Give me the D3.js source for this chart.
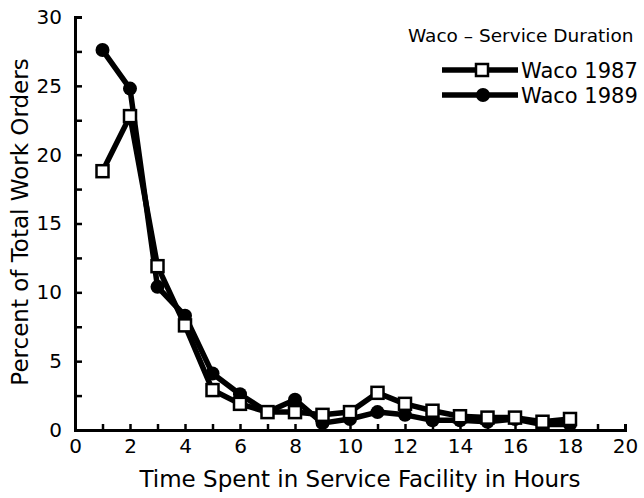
<!DOCTYPE html>
<html>
<head>
<meta charset="utf-8">
<script src="https://cdn.jsdelivr.net/npm/d3@7"></script>
<style>
  body { margin: 0; background: #fff; }
  text { font-family: "DejaVu Sans", sans-serif; fill: #000; }
</style>
</head>
<body>
<svg id="chart" width="644" height="498"></svg>
<script>
// hours in facility
var hours = [1, 2, 3, 4, 5, 6, 7, 8, 9, 10, 11, 12, 13, 14, 15, 16, 17, 18];
// percent of work orders
var waco1987 = [18.8, 22.8, 11.9, 7.6, 2.9, 1.9, 1.3, 1.3, 1.1, 1.3, 2.7, 1.9, 1.4, 1.0, 0.9, 0.9, 0.6, 0.8];
var waco1989 = [27.6, 24.8, 10.4, 8.3, 4.1, 2.6, 1.3, 2.2, 0.5, 0.8, 1.3, 1.1, 0.7, 0.7, 0.6, 0.8, 0.4, 0.4];
var seriesNames = ["Waco 1987", "Waco 1989"];

var svg = d3.select("#chart");
var margin = {top: 17, right: 19, bottom: 68, left: 75};
var width = 644 - margin.left - margin.right,
    height = 498 - margin.top - margin.bottom;

var x = d3.scaleLinear().domain([0, 20]).range([0, width]);
var y = d3.scaleLinear().domain([0, 30]).range([height, 0]);

var g = svg.append("g")
    .attr("transform", "translate(" + margin.left + "," + margin.top + ")");

// axes: ticks point inward, minor ticks between labels
var xAxis = g.append("g")
    .attr("transform", "translate(0," + height + ")")
    .call(d3.axisBottom(x).tickValues(d3.range(0, 21)).tickSize(-6).tickPadding(9)
      .tickFormat(function(d) { return d % 2 == 0 ? d : ""; }));

var yAxis = g.append("g")
    .call(d3.axisLeft(y).tickValues(d3.range(0, 30.1, 2.5)).tickSize(-7).tickPadding(13)
      .tickFormat(function(d) { return d % 5 == 0 ? d : ""; }));

[xAxis, yAxis].forEach(function(a) {
  a.select(".domain").attr("stroke", "#000").attr("stroke-width", 3);
  a.selectAll(".tick line").attr("stroke", "#000").attr("stroke-width", 2.5);
  a.selectAll(".tick text").style("font-size", "20px").style("font-family", "DejaVu Sans");
});

// axis titles
svg.append("text")
    .attr("x", 360).attr("y", 487)
    .attr("text-anchor", "middle")
    .style("font-size", "23px")
    .text("Time Spent in Service Facility in Hours");

svg.append("text")
    .attr("transform", "translate(28," + 222 + ") rotate(-90)")
    .attr("text-anchor", "middle")
    .style("font-size", "23px")
    .text("Percent of Total Work Orders");

var line = d3.line()
    .x(function(d) { return x(d[0]); })
    .y(function(d) { return y(d[1]); });

var d87 = hours.map(function(h, i) { return [h, waco1987[i]]; });
var d89 = hours.map(function(h, i) { return [h, waco1989[i]]; });

g.append("path").datum(d89)
    .attr("d", line).attr("fill", "none")
    .attr("stroke", "#000").attr("stroke-width", 5.5).attr("stroke-linejoin", "round");
g.append("path").datum(d87)
    .attr("d", line).attr("fill", "none")
    .attr("stroke", "#000").attr("stroke-width", 5.5).attr("stroke-linejoin", "round");

g.selectAll(".dot89").data(d89).enter().append("circle")
    .attr("cx", function(d) { return x(d[0]); })
    .attr("cy", function(d) { return y(d[1]); })
    .attr("r", 7).attr("fill", "#000");

g.selectAll(".sq87").data(d87).enter().append("rect")
    .attr("x", function(d) { return x(d[0]) - 6; })
    .attr("y", function(d) { return y(d[1]) - 6; })
    .attr("width", 12).attr("height", 12)
    .attr("fill", "#fff").attr("stroke", "#000").attr("stroke-width", 2.5);

// legend
var legend = svg.append("g");
legend.append("text")
    .attr("x", 408).attr("y", 42)
    .style("font-size", "18.5px")
    .text("Waco \u2013 Service Duration");

seriesNames.forEach(function(name, i) {
  var ly = 70 + i * 25;
  legend.append("line")
      .attr("x1", 442).attr("x2", 518).attr("y1", ly).attr("y2", ly)
      .attr("stroke", "#000").attr("stroke-width", 5.5);
  if (i == 0) {
    legend.append("rect")
        .attr("x", 476).attr("y", ly - 6).attr("width", 12).attr("height", 12)
        .attr("fill", "#fff").attr("stroke", "#000").attr("stroke-width", 2.5);
  } else {
    legend.append("circle")
        .attr("cx", 483).attr("cy", ly).attr("r", 7).attr("fill", "#000");
  }
  legend.append("text")
      .attr("x", 521).attr("y", ly + 8)
      .style("font-size", "21px")
      .text(name);
});
</script>
</body>
</html>
